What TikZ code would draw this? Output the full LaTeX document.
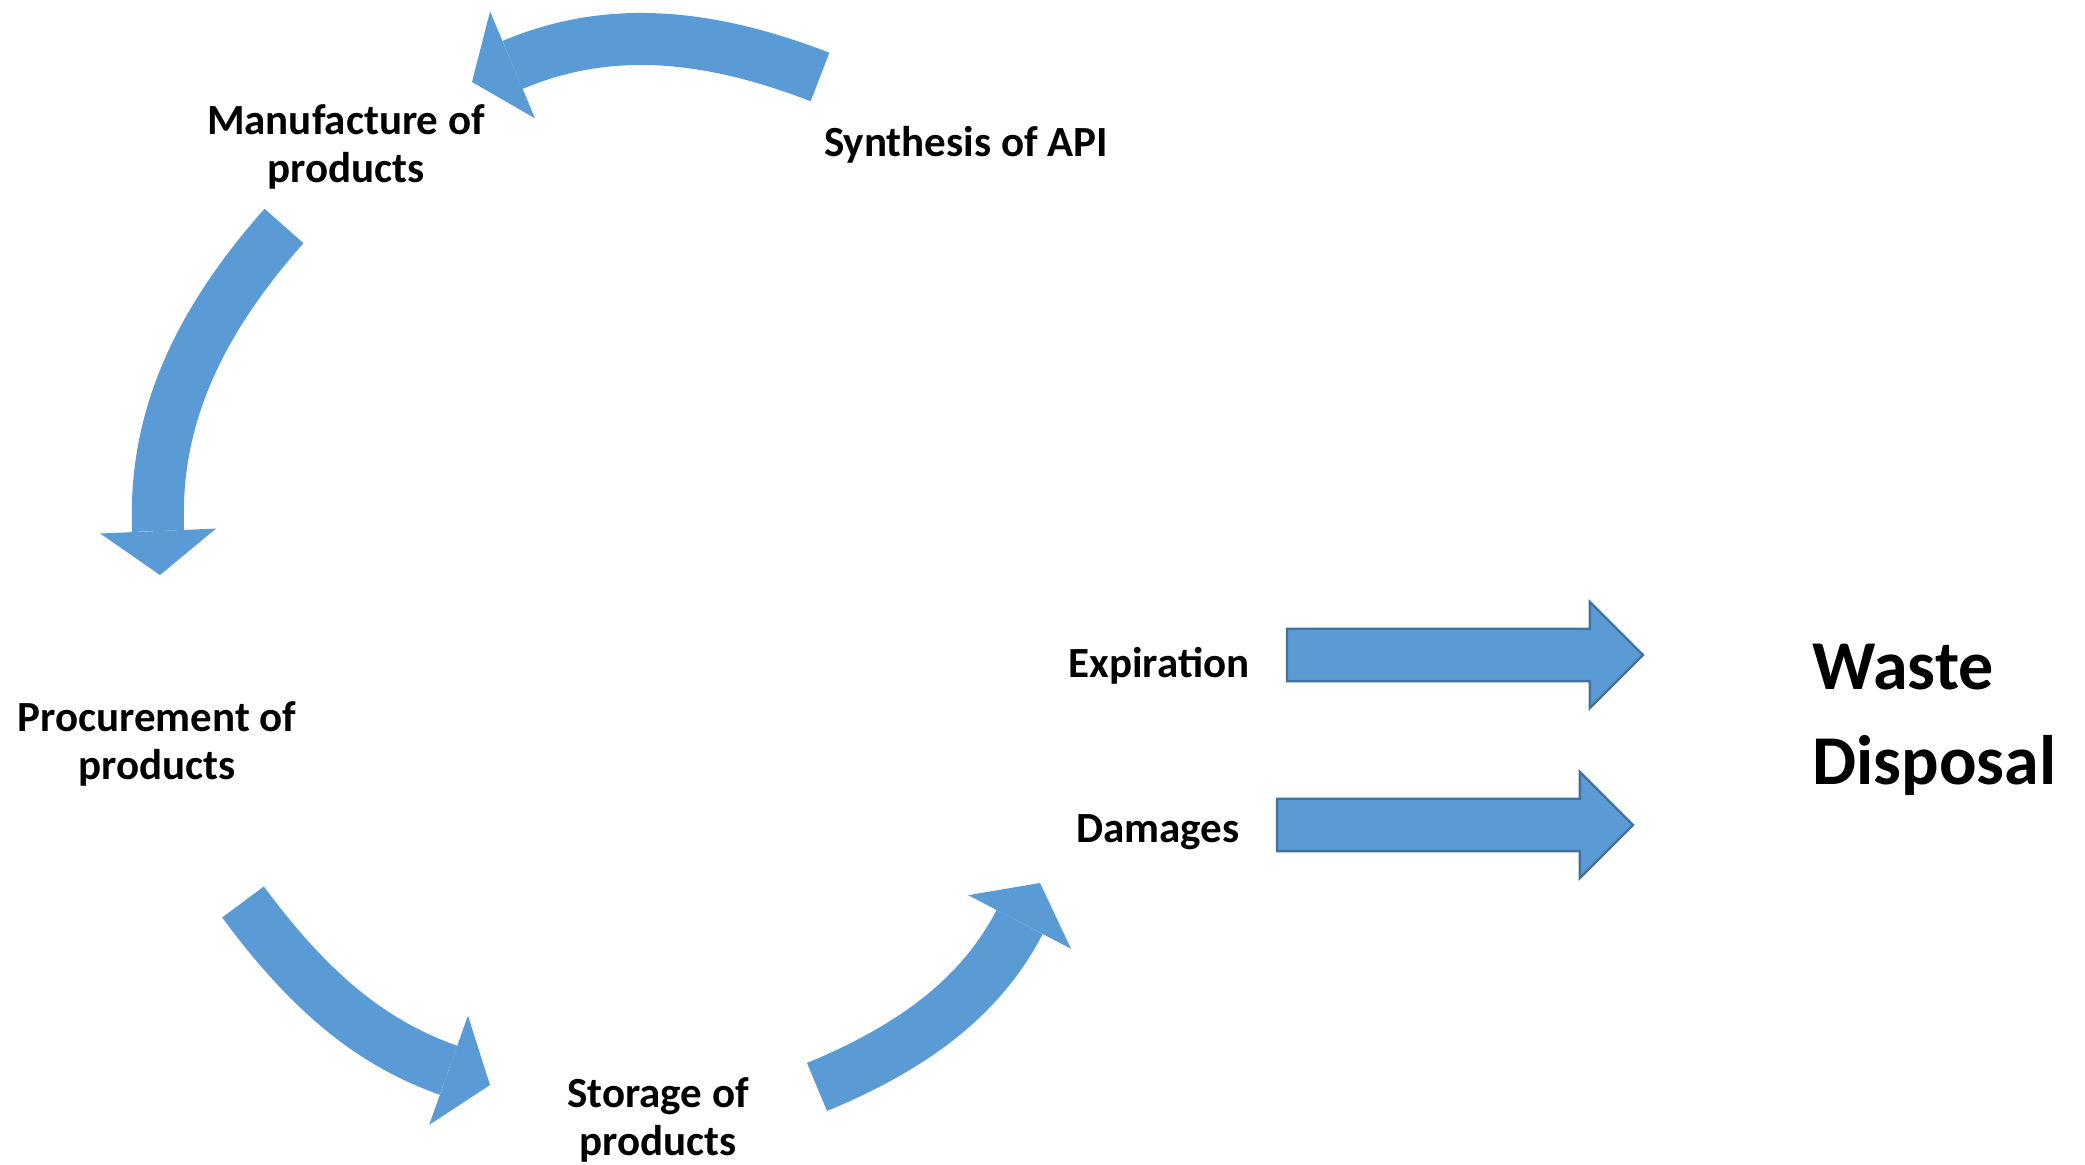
\documentclass[tikz,border=0pt]{standalone}
\usepackage{fontspec}
\setmainfont{Carlito}
\definecolor{flowblue}{RGB}{91, 155, 213}
\definecolor{flowedge}{RGB}{65, 113, 156}
\usetikzlibrary{arrows.meta, shapes.arrows, positioning}

\tikzset{
  stagelabel/.style={font=\fontsize{21.5pt}{24pt}\selectfont\bfseries, align=center, anchor=base, inner sep=0pt},
  cyclearrow/.style={draw=flowblue, line width=26pt,
    -{Triangle[length=22pt 0 0, width=58pt 0 0, line width=0pt 0 0]}},
  wastearrow/.style={single arrow, draw=flowedge, fill=flowblue, line width=1.2pt,
    minimum height=178pt, single arrow head extend=13.5pt,
    inner xsep=0pt, inner ysep=12.5pt, outer sep=0pt, anchor=tail}
}

\begin{document}
\begin{tikzpicture}[x=0.5pt, y=-0.5pt]
  \useasboundingbox (0, 0) rectangle (2085, 1165);

  % Stages of the cycle (base = last line)
  \node[stagelabel] (synth) at (966, 157) {Synthesis of API};
  \node[stagelabel] (manuf) at (346, 183) {Manufacture of\\products};
  \node[stagelabel] (procure) at (157, 780) {Procurement of\\products};
  \node[stagelabel] (storage) at (658, 1155) {Storage of\\products};
  \node[stagelabel] (expire) at (1159, 678) {Expiration};
  \node[stagelabel] (damage) at (1158, 843) {Damages};

  % Curved arrows round the cycle
  \coordinate (synthout) at (820, 77);
  \coordinate (manufin) at (472, 82);
  \coordinate (manufout) at (284, 226);
  \coordinate (procurein) at (160, 575);
  \coordinate (procureout) at (243, 902);
  \coordinate (storagein) at (490, 1085);
  \coordinate (storageout) at (817, 1087);
  \coordinate (damagein) at (1040, 883);

  \draw[cyclearrow] (synthout) to[bend right=22] (manufin);
  \draw[cyclearrow] (manufout) to[bend right=22] (procurein);
  \draw[cyclearrow] (procureout) to[bend right=17] (storagein);
  \draw[cyclearrow] (storageout) to[bend right=20] (damagein);

  % Waste disposal
  \node[wastearrow] (exparrow) at (1287, 655) {};
  \node[wastearrow] (damarrow) at (1277, 825) {};
  \node[font=\fontsize{35pt}{47.5pt}\selectfont\bfseries, align=left, anchor=base west, inner sep=0pt]
    (waste) at (1812, 785) {Waste\\Disposal};
\end{tikzpicture}
\end{document}
